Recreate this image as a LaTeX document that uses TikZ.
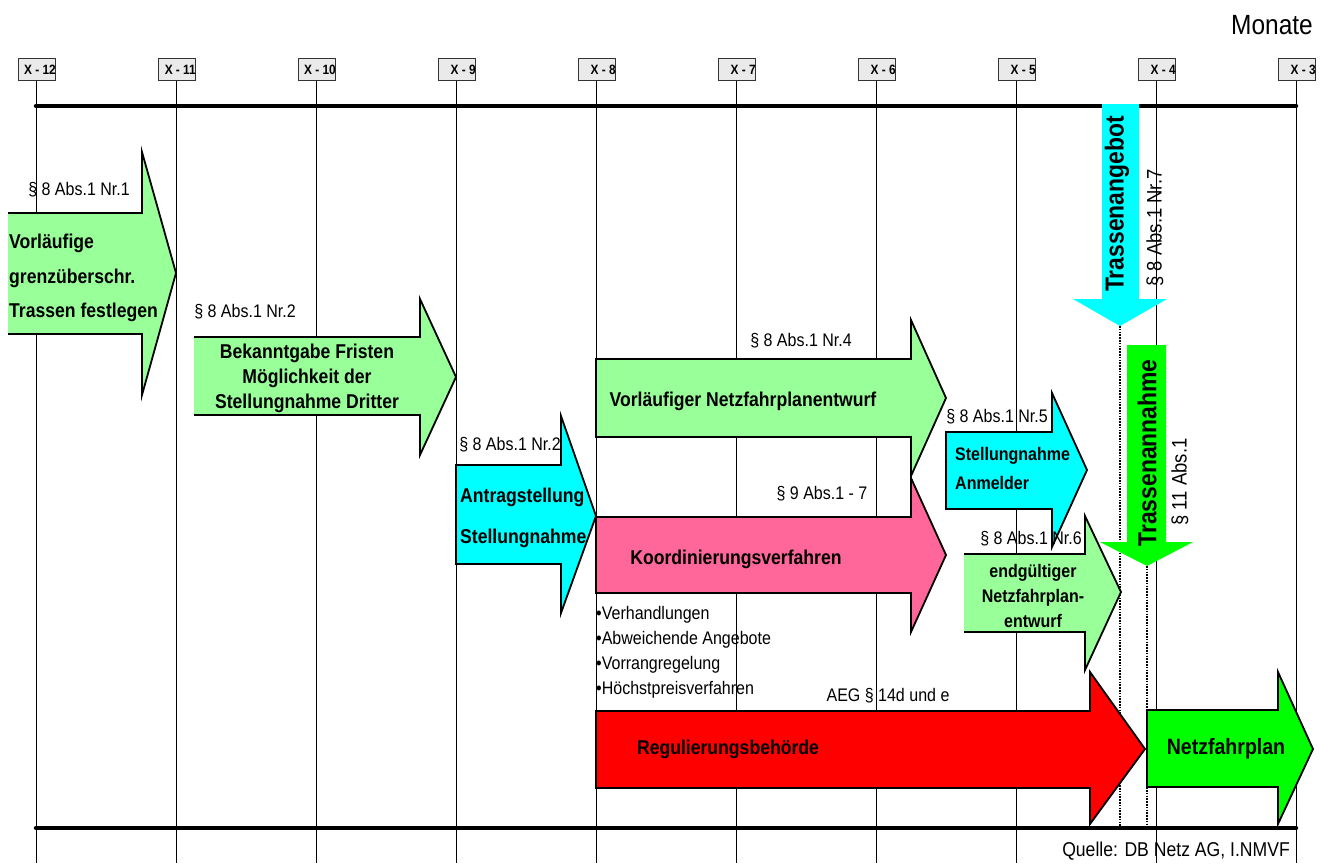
\documentclass[tikz,border=0pt]{standalone}
\usepackage{fontspec}
\setmainfont{Liberation Sans}[FakeStretch=0.88]
\definecolor{hellgruen}{HTML}{99FF99}
\definecolor{tuerkis}{HTML}{00FFFF}
\definecolor{rosa}{HTML}{FF6699}
\definecolor{rot}{HTML}{FF0000}
\definecolor{gruen}{HTML}{00FF00}
\definecolor{kasten}{HTML}{EAEAEA}
\begin{document}
\begin{tikzpicture}
	[x=1pt,y=-1pt,
	 monat/.style={draw=black!80,fill=kasten,minimum width=37pt,minimum height=22pt,inner sep=0pt,line width=1pt},
	 kopf/.style={font=\bfseries\fontsize{13.5}{15}\selectfont,inner sep=0pt},
	 raster/.style={line width=1pt},
	 balken/.style={line width=4.5pt,line cap=round},
	 punkt/.style={line width=2.6pt,dash pattern=on 1.6pt off 1.2pt},
	 pfeil/.style={draw,line width=1.8pt,line join=miter},
	 para/.style={font=\fontsize{18.2}{21}\selectfont,inner sep=0pt},
	 titel/.style={font=\bfseries\fontsize{20}{24}\selectfont,inner sep=0pt},
	 senkrecht/.style={font=\bfseries\fontsize{26}{30}\selectfont,rotate=90,inner sep=0pt}]
	\useasboundingbox (0,0) rectangle (1328,863);
	% Monatsraster
	\foreach \m [count=\k from 0] in {12,11,...,3}{
		\node[monat] (m\m) at ({36.5+140*\k},69) {};
		\node[kopf,anchor=east] (t\m) at ({56+140*\k},69.5) {X - \m};
		\draw[raster] (m\m.south) -- (m\m.south |- 0,863);
	}
	\coordinate (angebot) at (1120,326);
	\coordinate (annahme) at (1147,566);
	\draw[punkt] (angebot) -- (angebot |- 0,828);
	\draw[punkt] (annahme) -- (annahme |- 0,828);
	\draw[balken] (36,106) -- (1296,106);
	\draw[balken] (36,828) -- (1296,828);
	% Zeitpfeile
	\filldraw[pfeil,fill=hellgruen] (8,213) -- (142,213) -- (142,152) -- (176,273) -- (142,395) -- (142,334) -- (8,334);
	\filldraw[pfeil,fill=hellgruen] (194,337) -- (420,337) -- (420,299) -- (456,377) -- (420,455) -- (420,415) -- (194,415);
	\filldraw[pfeil,fill=tuerkis] (456,465) -- (561,465) -- (561,416) -- (596,516) -- (561,613) -- (561,564) -- (456,564) -- cycle;
	\filldraw[pfeil,fill=hellgruen] (596,359) -- (911,359) -- (911,320) -- (946,398) -- (911,476) -- (911,437) -- (596,437) -- cycle;
	\filldraw[pfeil,fill=rosa] (596,517) -- (911,517) -- (911,478) -- (946,555) -- (911,632) -- (911,593) -- (596,593) -- cycle;
	\filldraw[pfeil,fill=rot] (596,711) -- (1090,711) -- (1090,672) -- (1145,749) -- (1090,824) -- (1090,788) -- (596,788) -- cycle;
	\filldraw[pfeil,fill=tuerkis] (946,432) -- (1052,432) -- (1052,393) -- (1087,470) -- (1052,547) -- (1052,509) -- (946,509) -- cycle;
	\filldraw[pfeil,fill=hellgruen] (964,554) -- (1085,554) -- (1085,516) -- (1121,592) -- (1085,670) -- (1085,632) -- (964,632);
	\filldraw[pfeil,fill=gruen] (1147,710) -- (1278,710) -- (1278,672) -- (1313,749) -- (1278,824) -- (1278,787) -- (1147,787) -- cycle;
	\fill[tuerkis] (1102,104) -- (1139,104) -- (1139,299) -- (1167,299) -- (angebot) -- (1073,299) -- (1102,299) -- cycle;
	\fill[gruen] (1127,345) -- (1166,345) -- (1166,542) -- (1193,542) -- (annahme) -- (1100,542) -- (1127,542) -- cycle;
	% Texte
	\node[font=\fontsize{27.8}{32}\selectfont,inner sep=0pt,anchor=east] (monate) at (1313,25) {Monate};
	\node[para] (p1) at (79,190) {§ 8 Abs.1 Nr.1};
	\node[titel,align=left,anchor=west,font=\bfseries\fontsize{20}{34.5}\selectfont] (vorl) at (9,278) {Vorläufige\\grenzüberschr.\\Trassen festlegen};
	\node[para] (p2) at (245,312) {§ 8 Abs.1 Nr.2};
	\node[titel,align=center,font=\bfseries\fontsize{20}{25}\selectfont] (frist) at (307,378) {Bekanntgabe Fristen\\Möglichkeit der\\Stellungnahme Dritter};
	\node[para] (p3) at (510,445) {§ 8 Abs.1 Nr.2};
	\node[titel,align=left,anchor=west,font=\bfseries\fontsize{20}{41}\selectfont] (antrag) at (460,518) {Antragstellung\\Stellungnahme};
	\node[para] (p4) at (801,341) {§ 8 Abs.1 Nr.4};
	\node[titel] (entwurf) at (743,401) {Vorläufiger Netzfahrplanentwurf};
	\node[para] (p9) at (822,494) {§ 9 Abs.1 - 7};
	\node[titel] (koord) at (736,559) {Koordinierungsverfahren};
	\node[para,align=left,anchor=west,font=\fontsize{18.2}{25}\selectfont] (liste) at (596,652) {•Verhandlungen\\•Abweichende Angebote\\•Vorrangregelung\\•Höchstpreisverfahren};
	\node[para] (aeg) at (888,696) {AEG § 14d und e};
	\node[titel] (regul) at (728,749) {Regulierungsbehörde};
	\node[para] (p5) at (997,417) {§ 8 Abs.1 Nr.5};
	\node[titel,align=left,anchor=west,font=\bfseries\fontsize{18.2}{29}\selectfont] (anmelder) at (955,468) {Stellungnahme\\Anmelder};
	\node[para] (p6) at (1031,539) {§ 8 Abs.1 Nr.6};
	\node[titel,align=center,font=\bfseries\fontsize{18.2}{25}\selectfont] (endg) at (1033,596) {endgültiger\\Netzfahrplan-\\entwurf};
	\node[titel,font=\bfseries\fontsize{22.2}{26}\selectfont] (netz) at (1226,749) {Netzfahrplan};
	\node[senkrecht] (tangebot) at (1117,204) {Trassenangebot};
	\node[para,rotate=90,font=\fontsize{21}{24}\selectfont] (p7) at (1155,228) {§ 8 Abs.1 Nr.7};
	\node[senkrecht] (tannahme) at (1147,453) {Trassenannahme};
	\node[para,rotate=90,font=\fontsize{21}{24}\selectfont] (p11) at (1180,482) {§ 11 Abs.1};
	\node[para,anchor=east,font=\fontsize{20}{24}\selectfont] (quelle) at (1290,851) {Quelle: DB Netz AG, I.NMVF};
\end{tikzpicture}
\end{document}
